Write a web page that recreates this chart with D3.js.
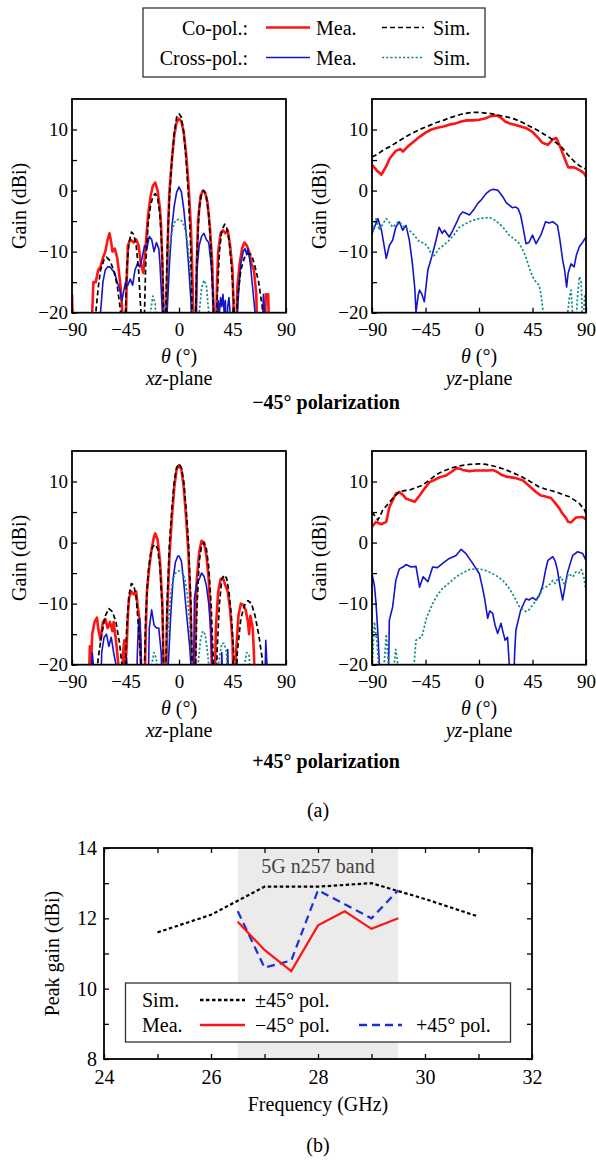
<!DOCTYPE html>
<html><head><meta charset="utf-8">
<script src="https://cdn.jsdelivr.net/npm/d3@7"></script>
<style>
body{margin:0;background:#fff}
svg{display:block}
text{font-family:"Liberation Serif","Times New Roman",serif;fill:#000}
</style>
</head><body>
<svg id="c" width="596" height="1161"></svg>
<script>
// ---------- tick labels ----------
const thetaTicks = [-90, -45, 0, 45, 90];
const gainTicks = [-20, -15, -10, -5, 0, 5, 10];
const freqTicks = [24, 25, 26, 27, 28, 29, 30, 31, 32];
const peakTicks = [8, 9, 10, 11, 12, 13, 14];

// ---------- panel 1: xz-plane, -45 pol ----------
const p1CoMea = [[-90,-17],[-89,-25],[-74,-25],[-73,-20],[-72,-15],[-70,-15],[-68,-13],[-66,-12.5],[-64,-11],[-62,-10],[-60,-8],[-58.5,-7],[-57,-8.5],[-56,-10],[-54,-9.5],[-52,-11],[-51,-12.5],[-49,-16],[-47,-22],[-46,-25],
 [-45,-25],[-44,-15],[-43,-9],[-41,-8],[-38,-8.5],[-36,-8],[-34,-9],[-32,-12],[-30,-13.5],[-28,-9],[-26,-4],[-24,-1],[-22,0.8],[-20,1.3],[-18,0],[-16,-3],[-15,-6],[-14,-12],[-13,-20],[-12.5,-25],
 [-11,-25],[-10,-14],[-9,-5],[-8,0],[-6,5],[-4,9],[-2,11.2],[0,11.8],[2,11.3],[4,9.5],[6,6],[8,1],[10,-6],[11,-12],[12,-20],[12.5,-25],
 [14,-25],[15,-12],[16,-5],[18,-1],[20,0],[22,-0.3],[24,-2],[26,-6],[28,-12],[29,-20],[30,-25],
 [31,-25],[32,-15],[33,-10],[35,-7],[37,-6.5],[39,-7],[41,-6.5],[43,-9],[45,-13],[46,-20],[47,-25],
 [48,-25],[49,-16],[51,-12],[53,-9.5],[55,-8.5],[57,-9],[59,-10],[61,-12],[63,-13],[65,-17],[66,-25],
 [72,-25],[73,-17],[75,-17],[76,-25]];
const p1CoSim = [[-72,-25],[-70,-20],[-68,-16],[-66,-13],[-63,-11.3],[-61,-10.9],[-58,-11.5],[-55,-13],[-52,-15.5],[-49,-20],[-47,-25],
 [-46,-25],[-45,-20],[-44,-13],[-42,-8.5],[-40,-6.8],[-38,-7.2],[-36,-9],[-34,-13],[-32,-20],[-31,-25],
 [-30,-25],[-29,-20],[-28,-12],[-26,-5.5],[-24,-2.5],[-22,-1],[-20,-0.5],[-18,-1.2],[-16,-4],[-14,-11],[-13,-20],[-12.5,-25],
 [-12,-25],[-11,-20],[-10,-10],[-8,-1],[-6,5],[-4,9.5],[-2,12],[0,12.6],[2,12],[4,9.5],[6,5],[8,-1],[10,-10],[11,-20],[12,-25],
 [13,-25],[14,-20],[15,-11],[17,-3],[19,-0.5],[21,0],[23,-1],[25,-4],[27,-10],[29,-20],[30,-25],
 [31,-25],[32,-18],[34,-10],[36,-6.5],[38.5,-5.5],[40,-6],[42,-8],[44,-12],[46,-18],[47,-25],
 [48,-25],[49,-18],[52,-13],[55,-11],[58,-10.3],[61,-10.5],[64,-12.5],[67,-15],[70,-19],[71,-25]];
const p1XMea = [[-68,-25],[-66,-20],[-64,-15],[-62,-13],[-60,-12.5],[-58,-12.5],[-56,-13],[-54,-13.5],[-52,-15],[-50,-16],[-48,-18],[-47,-17],[-45,-15],[-43,-15.5],[-41,-14.5],[-39,-15.5],[-37,-13],[-35,-12],[-33,-12.5],[-31,-11],[-29,-9],[-27,-9.5],[-25,-7.5],[-23,-8],[-21,-10],[-19,-8.5],[-17,-9.5],[-16,-12],[-15,-16],[-14,-20],[-13,-25],
 [-11,-25],[-10,-20],[-8,-12],[-6,-6],[-4,-2.5],[-2,-0.3],[0,0.6],[2,-0.2],[4,-3],[6,-7],[8,-12],[10,-18],[11,-25],
 [14,-25],[15,-13],[17,-9],[19,-7.5],[21,-7],[23,-8],[25,-8.5],[27,-12],[29,-18],[30,-25],
 [32,-25],[33,-18],[34,-20],[35,-17.5],[36,-19],[37,-17],[38,-20],[39,-18],[40,-25],[41,-19],[42,-17.5],[43,-20],[44,-25],
 [48,-25],[50,-17],[52,-12],[54,-10],[55.5,-9.5],[57,-10.5],[58,-9.5],[60,-12],[62,-16],[64,-20],[65,-25],
 [70,-25],[71,-17],[72,-20],[73,-25]];
const p1XSim = [[-25,-25],[-24,-20],[-22,-17.3],[-20,-18.5],[-19,-25],
 [-13,-25],[-12,-20],[-10,-14],[-8,-9.5],[-6,-6.8],[-4,-5.3],[-2,-4.8],[0,-4.7],[2,-4.9],[4,-5.6],[6,-7],[8,-10],[10,-14],[12,-20],[13,-25],
 [16,-25],[17,-20],[19,-16],[21,-14.7],[23,-15.5],[25,-20],[26,-25]];

// ---------- panel 2: yz-plane, -45 pol ----------
const p2CoMea = [[-90,4.2],[-86,3.3],[-82,2.6],[-78,4],[-75,5.3],[-70,6.5],[-66,6.8],[-64,6.4],[-60,7.2],[-55,8],[-50,8.8],[-45,9.5],[-40,10],[-35,10.3],[-30,10.5],[-25,10.8],[-20,11],[-15,11.3],[-10,11.5],[-5,11.5],[0,11.6],[5,11.8],[10,12.2],[15,12.3],[18,12],[22,11.3],[26,11],[30,10.8],[35,10.5],[40,10.2],[45,9.6],[50,8.6],[53,7.9],[55,7.7],[58,7.5],[62,8.4],[65,8.6],[68,7.3],[70,6.3],[72,5.3],[75,3.8],[80,3.8],[85,3.3],[88,2.9],[90,2.3]];
const p2CoSim = [[-90,5.5],[-85,6],[-80,6.7],[-75,7.2],[-70,7.8],[-65,8.4],[-60,9],[-55,9.5],[-50,10],[-45,10.4],[-40,10.8],[-35,11.2],[-30,11.5],[-25,11.9],[-20,12.2],[-15,12.5],[-10,12.7],[-5,12.8],[0,12.8],[5,12.7],[10,12.6],[15,12.4],[20,12.2],[25,12],[30,11.7],[35,11.3],[40,10.8],[45,10.3],[50,9.8],[55,9.2],[60,8.6],[65,7.8],[70,7],[75,5.8],[80,4.8],[85,4],[90,3.5]];
const p2XMea = [[-90,-7],[-85,-4.6],[-82,-6.5],[-78,-11.1],[-75.4,-9],[-72.6,-8.1],[-70,-6],[-67,-5.1],[-64.2,-6.5],[-61.4,-5.7],[-58.6,-8.1],[-56,-12],[-54,-16],[-53,-19.9],[-51,-17],[-50,-16.3],[-48,-17],[-46,-18.2],[-43,-13],[-39,-10.3],[-36,-8],[-33.6,-6],[-31,-7],[-29,-6.5],[-25,-7.6],[-22,-6.5],[-19.3,-5.4],[-16,-4],[-13.7,-3.5],[-10,-3.8],[-8,-4],[-4,-3],[-1,-2.1],[2,-1.5],[5.9,-0.5],[9,0],[11.5,0.2],[15.7,0.1],[20,-1],[23,-2],[25.5,-2.4],[28,-2.8],[31,-2.7],[33,-3],[35,-4],[37,-6],[39.5,-8.7],[42,-8.5],[45,-7.3],[48,-8.7],[50,-8],[52,-7.3],[56,-5.1],[59,-5.3],[62,-5.1],[66,-5.7],[68,-8],[70.4,-11.4],[72,-13],[73.7,-15.8],[75,-13.5],[77.4,-12],[80,-12.5],[82,-10.5],[84.4,-9.2],[87,-8.5],[90,-7.6]];
const p2XSim = [[-90,-7.3],[-86.6,-4.6],[-83.8,-6.5],[-81,-5.5],[-78,-4.6],[-75,-5.3],[-72.6,-6],[-68,-5.1],[-65,-5.5],[-62.8,-6],[-58.6,-6.5],[-55,-7.2],[-50,-8.4],[-46,-8.6],[-43,-9.2],[-39,-10.9],[-36,-10.2],[-33.6,-9.5],[-30,-9],[-25,-8.1],[-20,-7],[-16.5,-6],[-12,-5.5],[-8,-5.1],[-4,-4.8],[0,-4.6],[4,-4.5],[8.7,-4.4],[13,-4.8],[17,-5.4],[21,-6.2],[25.5,-7.3],[30,-8],[34,-8.7],[37,-9.8],[39.5,-10.9],[42,-12.5],[45,-14.1],[48,-15],[50.7,-15.5],[52.5,-17.5],[54,-20],[55,-25],
 [73,-25],[74.6,-20],[76,-17.5],[77.4,-16.3],[79,-21],[80,-25],[81,-21],[82,-20.5],[83,-17],[84.5,-14.1],[86,-15],[87,-22],[88,-20],[89,-17],[90,-19]];

// ---------- panel 3: xz-plane, +45 pol ----------
const p3CoMea = [[-76,-25],[-75,-17],[-74,-20],[-73,-15],[-71,-13],[-69,-12.3],[-68,-14],[-66,-16],[-64,-13],[-62,-12.5],[-60,-14],[-58,-13],[-56,-14.5],[-55,-13],[-53,-16],[-51,-20],[-50,-25],
 [-48,-25],[-47,-18],[-46,-16],[-45,-20],[-44,-17],[-43,-12],[-42,-9],[-40,-8],[-38,-8.5],[-36,-8],[-35,-10],[-33,-13],[-32,-20],[-31,-25],
 [-29,-25],[-28,-15],[-27,-8],[-25,-4],[-23,-1],[-21,1],[-20,1.5],[-18,0.5],[-16,-3],[-14,-10],[-13,-20],[-12,-25],
 [-11,-25],[-10,-12],[-8,-2],[-6,4],[-4,9],[-2,12],[0,12.7],[2,12],[4,9],[6,4],[8,-2],[10,-12],[11,-25],
 [13,-25],[14,-14],[15,-6],[17,-1.5],[19,0.3],[21,0],[23,-2],[25,-6],[26,-10],[27,-15],[28,-25],
 [30,-25],[31,-14],[33,-8],[35,-6],[37,-5.8],[39,-7],[41,-8],[43,-11],[45,-16],[46,-25],
 [47,-25],[48,-18],[50,-12],[52,-10],[54,-10.2],[56,-11],[58,-13],[59,-15],[60,-12],[62,-14],[63,-18],[64,-25]];
const p3CoSim = [[-71,-25],[-68,-19],[-65,-15],[-62,-12],[-59,-10.8],[-56,-11.3],[-53,-13],[-50,-16.5],[-48,-20],[-47,-25],
 [-46,-25],[-45,-20],[-44,-14],[-42,-8.5],[-40,-6.7],[-38,-7],[-36,-9],[-34,-14],[-32,-20],[-31,-25],
 [-30,-25],[-29,-20],[-28,-12],[-26,-5],[-24,-2],[-22,-0.6],[-20,-0.3],[-18,-1],[-16,-4],[-14,-11],[-13,-20],[-12.5,-25],
 [-12,-25],[-11,-20],[-10,-10],[-8,0],[-6,5.5],[-4,10],[-2,12.3],[0,12.9],[2,12.3],[4,10],[6,5.5],[8,0],[10,-10],[11,-20],[12,-25],
 [13,-25],[14,-20],[15,-11],[17,-3],[19,-0.5],[21,0],[23,-1],[25,-4],[27,-10],[29,-20],[30,-25],
 [31,-25],[32,-18],[34,-10],[36,-6],[38,-5.3],[40,-5.8],[42,-8],[44,-12],[46,-18],[47,-25],
 [48,-25],[49,-18],[52,-12.5],[55,-10.3],[58,-9.5],[61,-10],[64,-12],[67,-15],[70,-19],[71,-25]];
const p3XMea = [[-74,-25],[-73,-18],[-72,-20],[-71,-25],
 [-66,-25],[-65,-18],[-63,-15.5],[-61,-15],[-59,-17],[-57,-15.5],[-55,-18],[-53,-20],[-52,-25],
 [-45,-25],[-44,-19],[-43,-25],[-36,-25],[-35,-18],[-34,-13],[-33,-12.5],[-32,-17],[-31,-25],
 [-26,-25],[-25,-14],[-23,-11],[-21,-13.5],[-19,-14],[-17,-14],[-15,-18],[-14,-25],
 [-10,-25],[-9,-20],[-7,-12],[-5,-6],[-3,-3.2],[-1,-2.2],[0,-2.2],[2,-3],[4,-6.5],[6,-11],[8,-15],[9,-17],[10,-20],[11,-25],
 [12,-25],[13,-9],[15,-6.5],[17,-6],[19,-5],[21,-5.5],[23,-7],[25,-10],[27,-15],[28,-20],[29,-25],
 [35,-25],[36,-18],[37,-25],[40,-25],[41,-17.5],[42,-25],
 [72,-25],[73,-16],[74,-20],[75,-25]];
const p3XSim = [[-25,-25],[-23,-20],[-21,-18],[-19,-19],[-18,-25],
 [-13,-25],[-11,-20],[-9,-13],[-7,-8.5],[-5,-6],[-3,-5],[0,-4.6],[3,-5],[5,-6],[7,-8.5],[9,-13],[11,-20],[13,-25],
 [15,-25],[16,-20],[18,-16],[20,-14.5],[22,-15],[24,-18],[25,-20],[26,-25],
 [31,-25],[33,-20],[36,-16.5],[38,-16.5],[40,-18],[42,-25],
 [53,-25],[55,-20],[57,-18],[59,-18.5],[61,-25]];

// ---------- panel 4: yz-plane, +45 pol ----------
const p4CoMea = [[-90,2.6],[-86.6,3.4],[-82.4,3],[-78,3.4],[-75.4,5.8],[-72,7.2],[-70,8],[-67,8.3],[-64,7.8],[-61.4,7.2],[-57,6.9],[-54,6.7],[-50,7.7],[-46,8.8],[-41.6,9.9],[-37,10.3],[-33,10.7],[-27.6,11],[-23,11.6],[-19,12.2],[-16,12.1],[-13.7,11.9],[-8,11.7],[-3,11.8],[3,11.8],[8,11.8],[11.5,11.9],[15,11.6],[19,11.1],[22.7,10.8],[30,10.6],[36.7,10.2],[42,9.3],[48,8.3],[52,7.7],[55,7.6],[60.5,7.3],[64,6.5],[67.6,5.6],[70,4.8],[73,4.1],[75,3.4],[77.4,3.3],[81.5,4.1],[87,4.2],[90,3.8]];
const p4CoSim = [[-90,5],[-87,4.2],[-85,3.7],[-81,5.3],[-78,6],[-75.4,6.6],[-71,7.6],[-67,8.3],[-63,8.5],[-58.6,8.6],[-53,9],[-47.4,9.4],[-42,10.2],[-36,11.1],[-30,11.7],[-22,12.3],[-15,12.6],[-8,12.8],[0,12.9],[6,12.8],[13,12.5],[20,12.1],[28,11.5],[36.7,10.7],[44,9.9],[50.7,9.1],[57,8.7],[64.7,8.3],[70,7.9],[76,7.5],[80,7],[84.4,6.4],[88.6,5.4],[90,4.8]];
const p4XMea = [[-90,-5.1],[-88,-7],[-86.6,-10],[-85,-15],[-83.8,-20],[-83,-25],[-77,-25],[-76,-20],[-75.4,-12.7],[-72.6,-10.5],[-70,-6.2],[-67,-4.3],[-64,-4],[-61.4,-3.6],[-57,-4],[-53,-3.9],[-50,-7.3],[-47,-5.6],[-43,-6.4],[-39,-4],[-35,-4.1],[-30.6,-3.4],[-25,-2.6],[-19.3,-2.1],[-15,-1.1],[-11,-1.8],[-5.3,-3.4],[0.3,-5.1],[2.5,-7],[4.5,-8.9],[7.3,-12.4],[9,-11.2],[11.5,-11.6],[13.5,-13.5],[15.7,-14.9],[18.5,-13.2],[20,-14.5],[22,-16],[24,-15.5],[25.5,-20],[26.5,-25],[29,-25],[30,-18],[31,-14.4],[35,-11.1],[39.5,-9.2],[42,-9.4],[45,-9],[48,-9.4],[51,-8.5],[53.6,-7],[56,-4.5],[58,-2.9],[62,-2.3],[64,-3],[66,-4.5],[68,-7],[70.4,-9.4],[72.5,-7],[74.6,-4.8],[78.8,-2.1],[83,-1.5],[87.2,-1.8],[90,-2.9]];
const p4XSim = [[-90,-21],[-88,-13],[-86,-16],[-84,-21],[-80,-20.5],[-78,-15],[-76,-20.5],[-72,-21],[-70,-17.5],[-68,-20.5],[-62,-21],[-58,-20.5],[-55,-21],[-53,-16],[-48,-15.4],[-44,-12.2],[-39,-10],[-35,-8.6],[-30.6,-7.5],[-25,-6.6],[-19.3,-5.6],[-14,-5],[-8,-4.4],[0,-4.3],[6,-4.6],[11.5,-5.1],[16,-5.6],[20,-6.2],[24,-7.1],[28,-8.3],[31,-9.4],[34,-10.5],[37,-11],[39.5,-11.3],[42,-11],[46,-10],[50,-9],[53.6,-7.5],[56,-7.3],[59,-7],[62,-6.2],[64,-6.7],[66,-6],[69,-5.6],[72,-7],[75,-5.1],[77,-5.3],[79,-5.6],[81.5,-4.8],[84,-5],[86,-4.4],[88,-5.5],[90,-7.8]];

// ---------- panel (b): peak gain vs frequency ----------
const freqSim = [25, 26, 27, 28, 29, 30, 31];
const gainSim = [11.6, 12.1, 12.9, 12.9, 13.0, 12.55, 12.05];
const freqMea = [26.5, 27, 27.5, 28, 28.5, 29, 29.5];
const gainMeaM45 = [11.9, 11.1, 10.5, 11.8, 12.2, 11.7, 12.0];
const gainMeaP45 = [12.2, 10.6, 10.8, 12.8, 12.4, 12.0, 12.8];
const bandRange = [26.5, 29.5];

// ---------- drawing ----------
const svg = d3.select("#c");
const FONT = 20, TICKFONT = 19;
const RED = "#ff1414", BLUE = "#1414cc", TEAL = "#178a8a";
const styles = {
  coMea: {stroke: RED, w: 2.6, dash: null},
  coSim: {stroke: "#000", w: 1.7, dash: "5,3"},
  xMea: {stroke: BLUE, w: 1.6, dash: null},
  xSim: {stroke: TEAL, w: 1.7, dash: "2.2,2"}
};

function italicLabel(g, x, y, ital, rest) {
  const t = g.append("text").attr("x", x).attr("y", y).attr("text-anchor", "middle").style("font-size", FONT + "px");
  t.append("tspan").style("font-style", "italic").text(ital);
  t.append("tspan").text(rest);
  return t;
}

let clipId = 0;
function panel(left, top, series, planeItal) {
  const W = 214, H = 213.7;
  const x = d3.scaleLinear().domain([-90, 90]).range([left, left + W]);
  const y = d3.scaleLinear().domain([-20, 15]).range([top + H, top]);
  const id = "clip" + (clipId++);
  svg.append("clipPath").attr("id", id).append("rect").attr("x", left).attr("y", top).attr("width", W).attr("height", H);
  const g = svg.append("g");
  const line = d3.line().x(d => x(d[0])).y(d => y(d[1]));
  const lg = g.append("g").attr("clip-path", `url(#${id})`);
  [["coMea", series[0]], ["xMea", series[2]], ["xSim", series[3]], ["coSim", series[1]]].forEach(([k, data]) => {
    const s = styles[k];
    lg.append("path").datum(data).attr("d", line).attr("fill", "none")
      .attr("stroke", s.stroke).attr("stroke-width", s.w)
      .attr("stroke-dasharray", s.dash).attr("stroke-linejoin", "round");
  });
  const ax = g.append("g").attr("transform", `translate(0,${top + H})`)
    .call(d3.axisBottom(x).tickValues(thetaTicks).tickSize(-5).tickPadding(10));
  const ay = g.append("g").attr("transform", `translate(${left},0)`)
    .call(d3.axisLeft(y).tickValues(gainTicks).tickSize(-5).tickPadding(4)
      .tickFormat(d => d % 10 === 0 ? d3.format("")(d) : ""));
  [ax, ay].forEach(a => {
    a.select(".domain").remove();
    a.selectAll("line").attr("stroke", "#000").attr("stroke-width", 1.3);
    a.selectAll("text").attr("fill", "#000").style("font-size", TICKFONT + "px")
      .style("font-family", '"Liberation Serif","Times New Roman",serif');
  });
  ax.selectAll("text").attr("dy", "0.72em");
  g.append("rect").attr("x", left).attr("y", top).attr("width", W).attr("height", H)
    .attr("fill", "none").attr("stroke", "#000").attr("stroke-width", 1.8);
  // y label
  g.append("text").attr("transform", `translate(${left - 46},${top + H / 2}) rotate(-90)`)
    .attr("text-anchor", "middle").style("font-size", FONT + "px").text("Gain (dBi)");
  // x label
  const cx = left + W / 2;
  const tl = g.append("text").attr("x", cx).attr("y", top + H + 50).attr("text-anchor", "middle").style("font-size", FONT + "px");
  tl.append("tspan").style("font-style", "italic").text("θ");
  tl.append("tspan").text(" (°)");
  italicLabel(g, cx, top + H + 72, planeItal, "-plane");
}

// legend (a)
(function () {
  const g = svg.append("g");
  g.append("rect").attr("x", 143).attr("y", 8).attr("width", 342).attr("height", 69)
    .attr("fill", "#fff").attr("stroke", "#333").attr("stroke-width", 1.3);
  const rows = [
    {lab: "Co-pol.:", y: 35, ly: 27.5, a: styles.coMea, b: styles.coSim},
    {lab: "Cross-pol.:", y: 65, ly: 57.5, a: styles.xMea, b: styles.xSim}
  ];
  rows.forEach(r => {
    g.append("text").attr("x", 248).attr("y", r.y).attr("text-anchor", "end").style("font-size", FONT + "px").text(r.lab);
    g.append("line").attr("x1", 266).attr("x2", 310).attr("y1", r.ly).attr("y2", r.ly)
      .attr("stroke", r.a.stroke).attr("stroke-width", r.a.w);
    g.append("text").attr("x", 316).attr("y", r.y).style("font-size", FONT + "px").text("Mea.");
    g.append("line").attr("x1", 382).attr("x2", 424).attr("y1", r.ly).attr("y2", r.ly)
      .attr("stroke", r.b.stroke).attr("stroke-width", r.b.w).attr("stroke-dasharray", r.b.dash);
    g.append("text").attr("x", 433).attr("y", r.y).style("font-size", FONT + "px").text("Sim.");
  });
})();

panel(72, 99, [p1CoMea, p1CoSim, p1XMea, p1XSim], "xz");
panel(372, 99, [p2CoMea, p2CoSim, p2XMea, p2XSim], "yz");
panel(72, 451, [p3CoMea, p3CoSim, p3XMea, p3XSim], "xz");
panel(372, 451, [p4CoMea, p4CoSim, p4XMea, p4XSim], "yz");

svg.append("text").attr("x", 326).attr("y", 409).attr("text-anchor", "middle")
  .style("font-size", FONT + "px").style("font-weight", "bold").text("−45° polarization");
svg.append("text").attr("x", 326).attr("y", 768).attr("text-anchor", "middle")
  .style("font-size", FONT + "px").style("font-weight", "bold").text("+45° polarization");
svg.append("text").attr("x", 318).attr("y", 817).attr("text-anchor", "middle")
  .style("font-size", FONT + "px").text("(a)");

// ---------- chart (b) ----------
(function () {
  const L = 104, R = 532, T = 848, B = 1059;
  const x = d3.scaleLinear().domain([24, 32]).range([L, R]);
  const y = d3.scaleLinear().domain([8, 14]).range([B, T]);
  const g = svg.append("g");
  g.append("rect").attr("x", x(bandRange[0])).attr("y", T).attr("width", x(bandRange[1]) - x(bandRange[0])).attr("height", B - T)
    .attr("fill", "#ebebeb");
  g.append("text").attr("x", x(28)).attr("y", T + 25).attr("text-anchor", "middle")
    .style("font-size", FONT + "px").style("fill", "#444").text("5G n257 band");
  const line = d3.line().x(d => x(d[0])).y(d => y(d[1]));
  const simPts = freqSim.map((f, i) => [f, gainSim[i]]);
  const m45 = freqMea.map((f, i) => [f, gainMeaM45[i]]);
  const p45 = freqMea.map((f, i) => [f, gainMeaP45[i]]);
  const SIM = {stroke: "#000", w: 2.2, dash: "3.5,2.5"}, M45 = {stroke: RED, w: 2.2, dash: null}, P45 = {stroke: "#1a2ee0", w: 2.2, dash: "8,5"};
  [[simPts, SIM], [p45, P45], [m45, M45]].forEach(([d, s]) => {
    g.append("path").datum(d).attr("d", line).attr("fill", "none").attr("stroke", s.stroke)
      .attr("stroke-width", s.w).attr("stroke-dasharray", s.dash);
  });
  // legend
  g.append("rect").attr("x", 125.5).attr("y", 983).attr("width", 385).attr("height", 59)
    .attr("fill", "#fff").attr("stroke", "#333").attr("stroke-width", 1.3);
  const lt = (x0, y0, s) => g.append("text").attr("x", x0).attr("y", y0).style("font-size", FONT + "px").text(s);
  const ll = (x1, x2, yy, s) => g.append("line").attr("x1", x1).attr("x2", x2).attr("y1", yy).attr("y2", yy)
    .attr("stroke", s.stroke).attr("stroke-width", s.w + 0.4).attr("stroke-dasharray", s.dash);
  lt(142, 1007, "Sim."); ll(200, 245, 1000, SIM); lt(255, 1007, "±45° pol.");
  lt(142, 1032, "Mea."); ll(200, 245, 1025, M45); lt(255, 1032, "−45° pol.");
  ll(359, 402, 1025, P45); lt(416, 1032, "+45° pol.");
  // axes
  const axB = g.append("g").attr("transform", `translate(0,${B})`)
    .call(d3.axisBottom(x).tickValues(freqTicks).tickSize(-5).tickPadding(11).tickFormat(d => d % 2 === 0 ? d : ""));
  const axT = g.append("g").attr("transform", `translate(0,${T})`)
    .call(d3.axisTop(x).tickValues(freqTicks).tickSize(-5).tickFormat(""));
  const axL = g.append("g").attr("transform", `translate(${L},0)`)
    .call(d3.axisLeft(y).tickValues(peakTicks).tickSize(-5).tickPadding(7).tickFormat(d => d % 2 === 0 ? d : ""));
  const axR = g.append("g").attr("transform", `translate(${R},0)`)
    .call(d3.axisRight(y).tickValues(peakTicks).tickSize(-5).tickFormat(""));
  [axB, axT, axL, axR].forEach(a => {
    a.select(".domain").remove();
    a.selectAll("line").attr("stroke", "#000").attr("stroke-width", 1.3);
    a.selectAll("text").attr("fill", "#000").style("font-size", FONT + "px")
      .style("font-family", '"Liberation Serif","Times New Roman",serif');
  });
  axB.selectAll("text").attr("dy", "0.72em");
  g.append("rect").attr("x", L).attr("y", T).attr("width", R - L).attr("height", B - T)
    .attr("fill", "none").attr("stroke", "#000").attr("stroke-width", 1.8);
  g.append("text").attr("transform", `translate(59,${(T + B) / 2}) rotate(-90)`).attr("text-anchor", "middle")
    .style("font-size", FONT + "px").text("Peak gain (dBi)");
  g.append("text").attr("x", (L + R) / 2).attr("y", 1111).attr("text-anchor", "middle").style("font-size", FONT + "px").text("Frequency (GHz)");
  g.append("text").attr("x", (L + R) / 2).attr("y", 1152).attr("text-anchor", "middle").style("font-size", FONT + "px").text("(b)");
})();
</script>
</body></html>
